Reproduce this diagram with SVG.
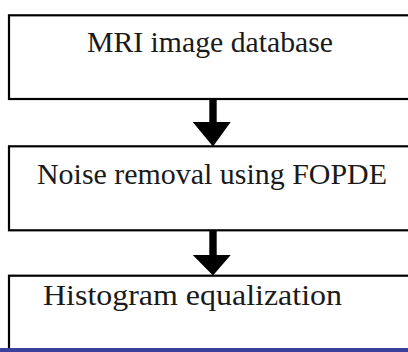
<svg xmlns="http://www.w3.org/2000/svg" width="408" height="352" viewBox="0 0 408 352">
<style>
.box{fill:#ffffff;stroke:#000000;stroke-width:2.2}
.lbl{font-family:"Liberation Serif","Times New Roman",serif;font-size:29px;fill:#1a1a1a}
.arr{fill:#000000}
</style>
<rect width="408" height="352" fill="#ffffff"/>
<g id="node-mri">
<rect class="box" x="9" y="15.3" width="420" height="83.7"/>
<text class="lbl" x="87" y="52" textLength="246" lengthAdjust="spacingAndGlyphs">MRI image database</text>
</g>
<g id="node-noise">
<rect class="box" x="9" y="146.3" width="420" height="84"/>
<text class="lbl" x="37" y="184" textLength="350" lengthAdjust="spacingAndGlyphs">Noise removal using FOPDE</text>
</g>
<g id="node-hist">
<rect class="box" x="9" y="275.7" width="420" height="90"/>
<text class="lbl" x="43" y="305" textLength="299" lengthAdjust="spacingAndGlyphs">Histogram equalization</text>
</g>
<g id="connectors">
<polygon class="arr" points="209.3,99 216.7,99 216.7,122 230.7,122 213,146.5 192.7,122 209.3,122"/>
<polygon class="arr" points="209.3,230.3 216.7,230.3 216.7,255 230.7,255 213,275.5 192.7,255 209.3,255"/>
</g>
<rect x="0" y="348" width="408" height="4" fill="#3b3f9e"/>
</svg>
